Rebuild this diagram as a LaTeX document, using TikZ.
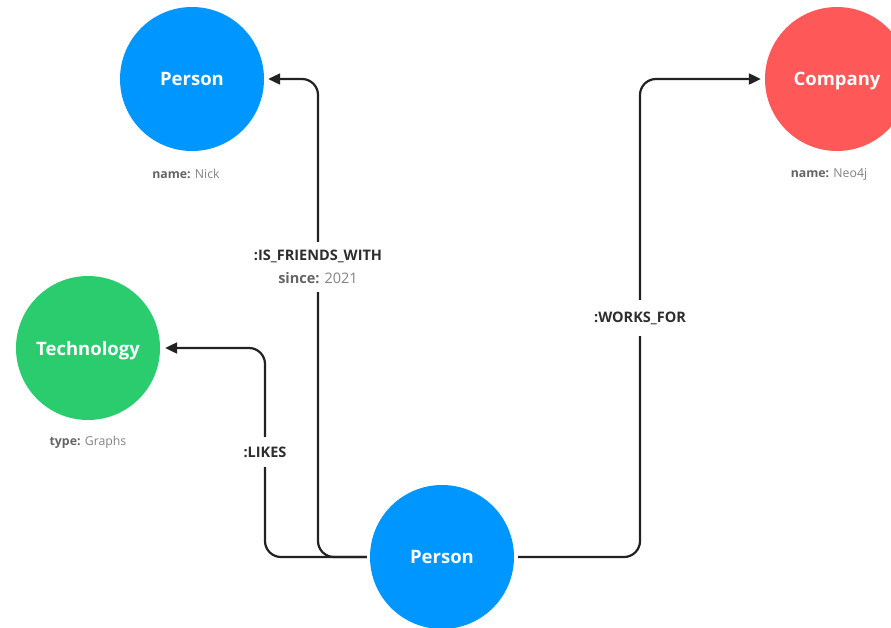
\documentclass[tikz,border=0pt]{standalone}
\usepackage{fontspec}
\setmainfont{Open Sans}
\usetikzlibrary{arrows.meta}
\definecolor{nblue}{RGB}{0,150,255}
\definecolor{nred}{RGB}{255,88,88}
\definecolor{ngreen}{RGB}{42,204,110}
\definecolor{lineclr}{RGB}{34,34,34}
\definecolor{keyclr}{RGB}{100,100,100}
\definecolor{valclr}{RGB}{130,130,130}
\definecolor{relclr}{RGB}{45,45,45}
\tikzset{
  gnode/.style={circle, minimum size=144pt, inner sep=0pt, text=white, text depth=0pt, font=\fontsize{18.5}{20}\selectfont\bfseries},
  prop/.style={font=\fontsize{12.3}{14}\selectfont, text=valclr},
  rel/.style={draw=lineclr, line width=2.2pt, rounded corners=16pt, -{Triangle[length=12pt,width=11pt]}},
  rlabel/.style={fill=white, inner xsep=2pt, inner ysep=8pt, align=center, text=relclr, font=\fontsize{14.5}{23}\selectfont\bfseries},
}
\newcommand{\pk}[1]{{\bfseries\color{keyclr}#1}}
\begin{document}
\begin{tikzpicture}[x=1pt,y=-1pt]
\useasboundingbox (0,0) rectangle (891,627);
\clip (0,0) rectangle (891,627);
% nodes
\node[gnode, fill=nblue] (p1) at (192,79) {Person};
\node[gnode, fill=nred] (co) at (837,79) {Company};
\node[gnode, fill=ngreen] (te) at (88,348) {Technology};
\node[gnode, fill=nblue] (p2) at (442,557) {Person};
% properties
\node[prop] (p1prop) at (186,174) {\pk{name:} Nick};
\node[prop] (coprop) at (829,174) {\pk{name:} Neo4j};
\node[prop] (teprop) at (88,442) {\pk{type:} Graphs};
% helper coordinates
\coordinate (fx) at (318,0);
\coordinate (lx) at (265,0);
\coordinate (wx) at (640,0);
% connectors
\draw[rel] ([xshift=-3pt]p2.west) -| (lx |- te.east) -- ([xshift=5pt]te.east);
\draw[rel] ([xshift=-3pt]p2.west) -| (fx |- p1.east) -- ([xshift=4pt]p1.east);
\draw[rel] ([xshift=4pt]p2.east) -| (wx |- co.east) -- ([xshift=-4pt]co.west);
% labels
\node[rlabel] (lf) at (318,267) {:IS\_FRIENDS\_WITH\\{\color{keyclr}since:} {\mdseries\color{valclr}2021}};
\node[rlabel, inner ysep=10pt] (ll) at (265,452) {:LIKES};
\node[rlabel, inner ysep=12pt] (lw) at (640,318) {:WORKS\_FOR};
\end{tikzpicture}
\end{document}
